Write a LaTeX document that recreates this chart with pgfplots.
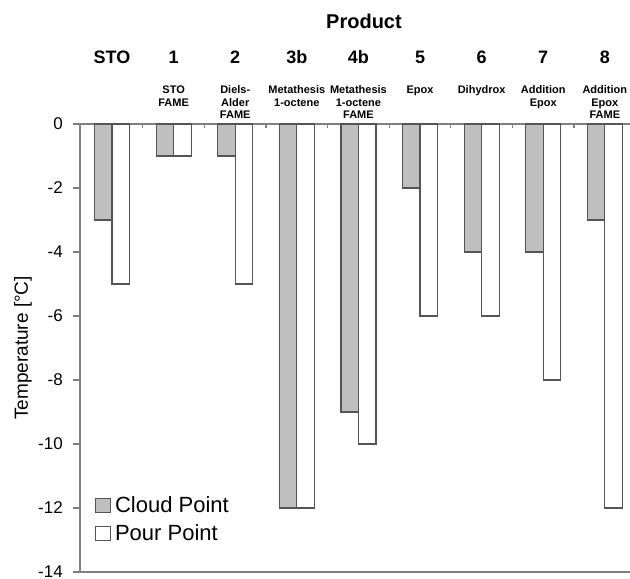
\documentclass[border=0pt]{standalone}
\usepackage{pgfplots}
\pgfplotsset{compat=1.18}
\usepackage{fontspec}
\setmainfont{Liberation Sans}
\definecolor{barfill}{RGB}{191,191,191}
\definecolor{baredge}{RGB}{85,85,85}
\definecolor{axgray}{RGB}{128,128,128}
\newcommand{\catlab}[2]{\makebox[0pt]{\fontsize{18bp}{18bp}\selectfont\bfseries #1}\makebox[0pt]{\raisebox{-30.5bp}[0pt][0pt]{\parbox[t]{80bp}{\centering\fontsize{11bp}{12.5bp}\selectfont\bfseries #2}}}}
\begin{document}
\begin{tikzpicture}
\useasboundingbox (0,0) rectangle (630bp,579bp);
\clip (0,0) rectangle (630bp,579bp);
\begin{axis}[
  at={(80bp,7bp)}, anchor=south west,
  scale only axis,
  width=561.8bp, height=448bp,
  xmin=-0.52, xmax=8.6,
  ymin=-14, ymax=0,
  ybar=0pt, bar width=17.5bp,
  axis line style={axgray, line width=1.6bp},
  every tick/.style={axgray, line width=1.2bp},
  xtick={0,...,8},
  xticklabels={{\catlab{STO}{}},{\catlab{1}{STO\\FAME}},{\catlab{2}{Diels-\\Alder\\FAME}},{\catlab{3b}{Metathesis\\1-octene}},{\catlab{4b}{Metathesis\\1-octene\\FAME}},{\catlab{5}{Epox}},{\catlab{6}{Dihydrox}},{\catlab{7}{Addition\\Epox}},{\catlab{8}{Addition\\Epox\\FAME}}},
  major x tick style={draw=none},
  minor xtick={0.5,1.5,...,8.5},
  minor tick length=4bp,
  major tick length=7bp,
  xtick pos=right, xticklabel pos=right,
  xtick align=inside,
  xticklabel style={anchor=base, inner sep=0pt, yshift=60.5bp},
  ytick={-14,-12,...,0},
  ytick pos=left, ytick align=outside,
  yticklabel style={font=\fontsize{17bp}{17bp}\selectfont, inner sep=0pt, anchor=east, xshift=-10bp},
  /pgf/number format/assume math mode=true,
  title={\fontsize{20bp}{20bp}\selectfont\bfseries Product},
  title style={at={(axis description cs:0.5055,1)}, anchor=base, yshift=90bp, inner sep=0pt},
  ylabel={Temperature [°C]},
  ylabel style={at={(axis description cs:-0.1015,0.5)}, anchor=center, font=\fontsize{19bp}{19bp}\selectfont, inner sep=0pt},
  legend style={at={(axis description cs:0.0267,0.1696)}, anchor=north west, draw=none, fill=none, inner sep=0pt,
     font=\fontsize{22bp}{22bp}\selectfont, row sep=12bp,
     nodes={inner sep=0pt, text height=16bp, text depth=0pt}},
  legend cell align=left,
  legend image code/.code={\draw[#1, line width=1.2bp] (0bp,-8bp) rectangle (15bp,6bp);},
]
\addplot[fill=barfill, draw=baredge, line width=1.2bp] coordinates {(0,-3) (1,-1) (2,-1) (3,-12) (4,-9) (5,-2) (6,-4) (7,-4) (8,-3)};
\addplot[fill=white, draw=baredge, line width=1.2bp] coordinates {(0,-5) (1,-1) (2,-5) (3,-12) (4,-10) (5,-6) (6,-6) (7,-8) (8,-12)};
\legend{\,Cloud Point,\,Pour Point}
\end{axis}
\end{tikzpicture}
\end{document}
